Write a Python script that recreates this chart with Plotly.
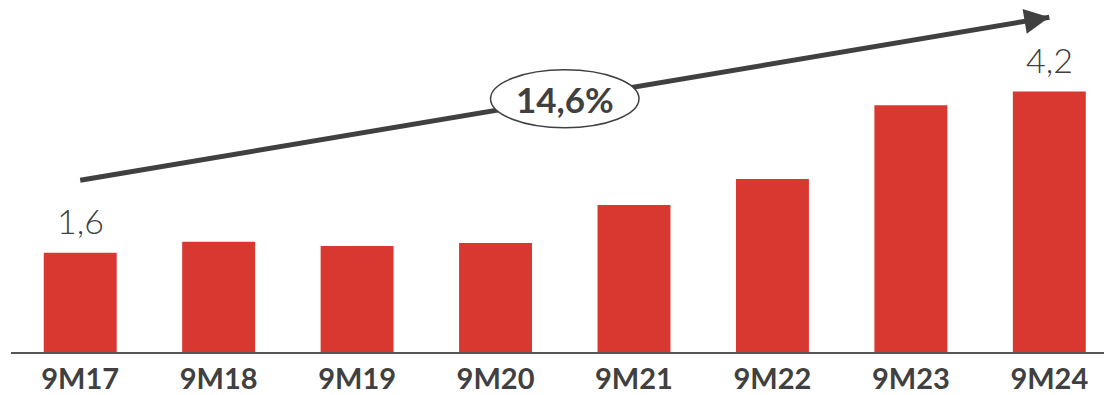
import plotly.graph_objects as go

# Revenue per period
periods = ["9M17", "9M18", "9M19", "9M20", "9M21", "9M22", "9M23", "9M24"]
values = [1.6, 1.78, 1.71, 1.76, 2.37, 2.79, 3.98, 4.2]
labelled = [0, 7]  # bars that carry a value label

# Growth arrow (CAGR) endpoints and label
trend_x = [0, 7]
trend_y = [2.77, 5.40]
cagr_text = "14,6%"

BAR = "#D93831"
INK = "#404040"

fig = go.Figure()
fig.add_trace(go.Bar(
    x=list(range(len(periods))), y=values,
    marker=dict(color=BAR, line=dict(width=0)),
    hoverinfo="skip",
))

# Trend line (drawn as a trace so the ellipse can sit over it)
fig.add_trace(go.Scatter(
    x=trend_x, y=trend_y, mode="lines",
    line=dict(color=INK, width=5), hoverinfo="skip",
))

# Arrowhead at the end of the trend line
dx = trend_x[1] - trend_x[0]
dy = trend_y[1] - trend_y[0]
fig.add_annotation(
    x=trend_x[1], y=trend_y[1],
    ax=trend_x[1] - 0.15, ay=trend_y[1] - 0.15 * dy / dx,
    xref="x", yref="y", axref="x", ayref="y",
    showarrow=True, arrowhead=2, arrowsize=1.0, arrowwidth=5,
    arrowcolor=INK, text="",
)

# Ellipse with the growth rate in the middle of the line
cx = (trend_x[0] + trend_x[1]) / 2
cy = (trend_y[0] + trend_y[1]) / 2
fig.add_shape(
    type="circle", xref="x", yref="y",
    x0=cx - 0.536, x1=cx + 0.536, y0=cy - 0.467, y1=cy + 0.467,
    fillcolor="white", line=dict(color=INK, width=1.5), layer="above",
)
fig.add_annotation(
    x=cx, y=cy, xref="x", yref="y", text=cagr_text, showarrow=False,
    font=dict(family="Lato", size=35, color=INK, weight="bold"),
)

# Value labels above the first and last bars
for i in labelled:
    fig.add_annotation(
        x=i, y=values[i], xref="x", yref="y",
        text=f"{values[i]:.1f}".replace(".", ","),
        showarrow=False, yanchor="bottom", yshift=10,
        font=dict(family="Lato", size=34, color=INK, weight=300),
    )

fig.update_layout(
    width=1104, height=395, autosize=False,
    margin=dict(l=10.5, r=0, t=0, b=43, autoexpand=False),
    paper_bgcolor="white", plot_bgcolor="white",
    showlegend=False, bargap=0.473,
    font=dict(family="Lato", color=INK),
)
fig.update_xaxes(
    range=[-0.5, 7.395], automargin=False,
    tickmode="array", tickvals=list(range(len(periods))), ticktext=periods,
    tickfont=dict(family="Lato", size=29, color=INK, weight="bold"),
    showgrid=False, zeroline=False,
    showline=True, linecolor="#555555", linewidth=2,
    ticks="", ticklabelstandoff=0,
)
fig.update_yaxes(
    range=[0, 352 / 62], visible=False, showgrid=False, zeroline=False,
    automargin=False,
)

fig.write_html("out.html")
